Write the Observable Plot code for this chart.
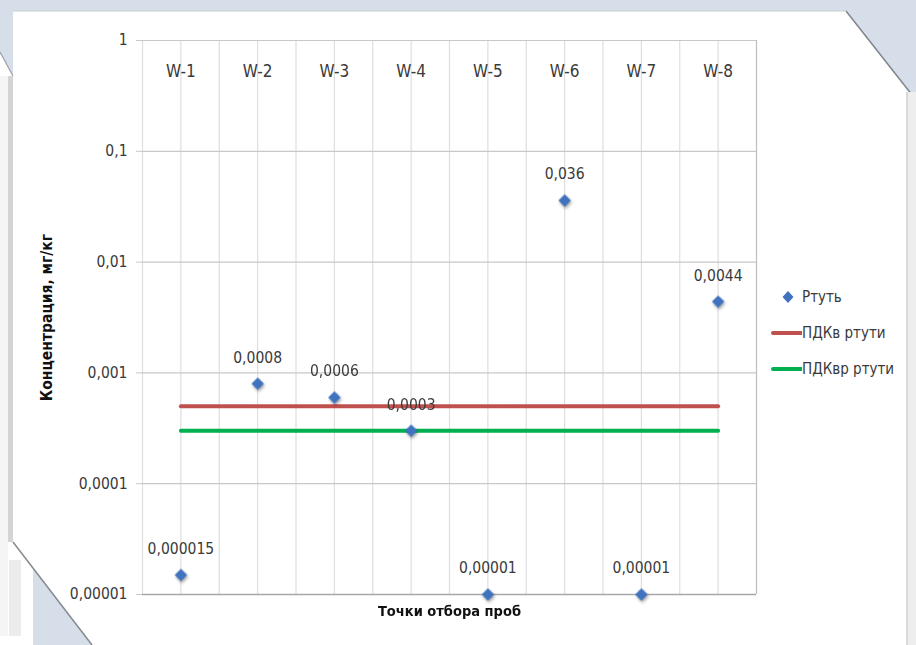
<!DOCTYPE html>
<html>
<head>
<meta charset="utf-8">
<script src="https://cdn.jsdelivr.net/npm/d3@7"></script>
<script src="https://cdn.jsdelivr.net/npm/@observablehq/plot@0.6"></script>
<style>
  body { margin: 0; background: #fff; }
  #wrap { position: relative; width: 916px; height: 645px; overflow: hidden;
          font-family: "Liberation Sans Narrow", "DejaVu Sans Condensed", sans-serif; }
  #bg, #chart { position: absolute; left: 0; top: 0; }
  #legend { position: absolute; left: 771px; top: 279px; font-size: 15px; color: #3a3a3a; }
  .item { display: flex; align-items: center; height: 36px; }
  .item svg { flex: none; }
</style>
</head>
<body>
<div id="wrap">
  <svg id="bg" width="916" height="645">
    <polygon points="0,0 916,0 916,100 846,11 13,11 13,76 0,52" fill="#d6dfe9"/>
    <line x1="846" y1="11" x2="916" y2="100" stroke="#7f858c" stroke-width="1.5"/>
    <line x1="13" y1="11" x2="846" y2="11" stroke="#c9ced4" stroke-width="1"/>
    <line x1="0" y1="52" x2="13" y2="76" stroke="#9aa0a6" stroke-width="1.2"/>
    <rect x="0" y="76" width="8" height="560" fill="#f5f5f5"/>
    <rect x="8" y="76" width="5" height="466" fill="#d4d4d4"/>
    <rect x="9" y="560" width="12" height="76" fill="#ececec"/>
    <polygon points="33,568 33,645 92,645" fill="#d6dfe9"/>
    <line x1="13" y1="542" x2="92" y2="645" stroke="#858a90" stroke-width="1.5"/>
    <rect x="907" y="92" width="9" height="553" fill="#eeeeee"/>
    <line x1="907" y1="92" x2="907" y2="645" stroke="#cfcfcf" stroke-width="1.5"/>
  </svg>
  <div id="chart"></div>
  <div id="legend"></div>
</div>
<script>
const categories = ["W-1", "W-2", "W-3", "W-4", "W-5", "W-6", "W-7", "W-8"];
const mercury = [0.000015, 0.0008, 0.0006, 0.0003, 0.00001, 0.036, 0.00001, 0.0044];
const pdkV = 0.0005;   // ПДКв ртути
const pdkVR = 0.0003;  // ПДКвр ртути
const yTicks = [1, 0.1, 0.01, 0.001, 0.0001, 0.00001];
const seriesNames = ["Ртуть", "ПДКв ртути", "ПДКвр ртути"];
const seriesColors = ["#3f72bf", "#c0504d", "#00b050"];

const fmt = v => String(v).replace(".", ",");
const pts = categories.map((c, i) => ({i: i + 0.5, c, v: mercury[i]}));
const lineV = categories.map((c, i) => ({i: i + 0.5, v: pdkV}));
const lineVR = categories.map((c, i) => ({i: i + 0.5, v: pdkVR}));
const gridX = d3.range(0, categories.length + 0.25, 0.5);
const textColor = "#3a3a3a";
const fontFam = '"Liberation Sans Narrow", "DejaVu Sans Condensed", sans-serif';

const chart = Plot.plot({
  width: 916, height: 645,
  marginTop: 40, marginLeft: 142, marginRight: 160, marginBottom: 51,
  x: {type: "linear", domain: [0, categories.length], axis: null},
  y: {type: "log", domain: [0.00001, 1], axis: null},
  style: {background: "transparent", fontFamily: fontFam, color: textColor, overflow: "visible"},
  marks: [
    Plot.ruleX(gridX, {stroke: d => d === categories.length ? "#bdbdbd" : "#dedede", strokeWidth: 1.2}),
    Plot.ruleY(yTicks.slice(0, -1), {stroke: "#c8c8c8", strokeWidth: 1.2}),
    Plot.axisY(yTicks, {tickFormat: fmt, tickSize: 6, tickPadding: 9, fontSize: 15.5,
                        stroke: "#c8c8c8", fill: textColor, label: null}),
    Plot.ruleY([yTicks[yTicks.length - 1]], {stroke: "#a8a8a8", strokeWidth: 1.5}),
    Plot.text(pts, {x: "i", frameAnchor: "top", lineAnchor: "middle", text: "c", dy: 31,
                    fontSize: 17, fill: textColor}),
    Plot.line(lineV, {x: "i", y: "v", stroke: seriesColors[1], strokeWidth: 4}),
    Plot.line(lineVR, {x: "i", y: "v", stroke: seriesColors[2], strokeWidth: 4}),
    Plot.dot(pts, {x: "i", y: "v", symbol: "diamond2", r: 5.6, fill: seriesColors[0], stroke: null}),
    Plot.text(pts, {x: "i", y: "v", text: d => fmt(d.v), dy: -26, fontSize: 15.5, fill: textColor}),
    Plot.text(["Концентрация, мг/кг"], {frameAnchor: "left", textAnchor: "middle", lineAnchor: "middle",
                                         rotate: -90, dx: -95,
                                         fontSize: 15.5, fontWeight: "bold", fill: "#111"}),
    Plot.text(["Точки отбора проб"], {frameAnchor: "bottom", lineAnchor: "middle", dy: 17,
                                       fontSize: 14.5, fontWeight: "bold", fill: "#111"})
  ]
});
document.getElementById("chart").appendChild(chart);
chart.querySelectorAll('g[aria-label="dot"]').forEach(g =>
  g.style.filter = "drop-shadow(1px 2px 1.5px rgba(0,0,0,0.35))");

// legend
const legend = document.getElementById("legend");
seriesNames.forEach((name, k) => {
  const item = document.createElement("div");
  item.className = "item";
  const sw = k === 0
    ? `<svg width="31" height="14"><path d="M17,1 L22.5,7 L17,13 L11.5,7 Z" fill="${seriesColors[0]}"/></svg>`
    : `<svg width="31" height="14"><line x1="2" y1="7" x2="31" y2="7" stroke="${seriesColors[k]}" stroke-width="4" stroke-linecap="round"/></svg>`;
  item.innerHTML = sw + `<span>${name}</span>`;
  legend.appendChild(item);
});
</script>
</body>
</html>
